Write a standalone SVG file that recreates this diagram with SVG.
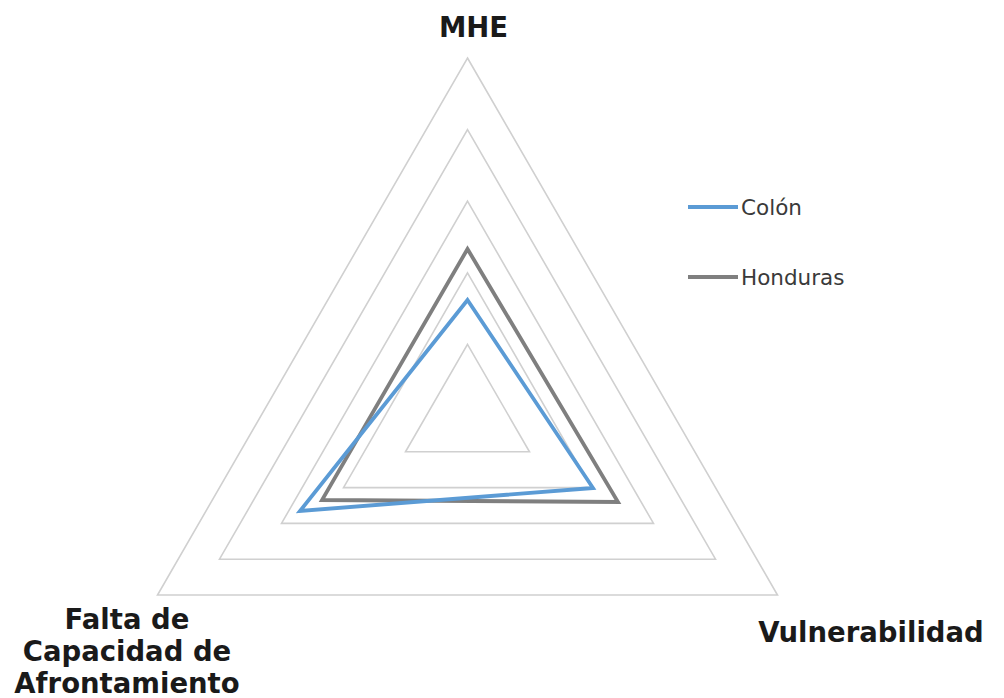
<svg xmlns="http://www.w3.org/2000/svg" width="1004" height="698" viewBox="0 0 1004 698">
<style>
.grid{fill:none;stroke:#D0D0D0;stroke-width:1.6;stroke-linejoin:miter}
.s{fill:none;stroke-width:3.8;stroke-linejoin:miter}
.colon{stroke:#5B9BD5}
.hond{stroke:#7F7F7F}
.ax{font-family:"DejaVu Sans",Verdana,sans-serif;font-weight:bold;font-size:27.5px;fill:#1a1a1a;text-anchor:middle}
.lg{font-family:"DejaVu Sans",Verdana,sans-serif;font-size:21.5px;fill:#3a3a3a}
</style>
<rect width="1004" height="698" fill="#fff"/>
<g id="grid">
<polygon class="grid" points="467.5,58 777.5,595 157.5,595"/>
<polygon class="grid" points="467.5,129.6 715.5,559.2 219.5,559.2"/>
<polygon class="grid" points="467.5,201.2 653.5,523.4 281.5,523.4"/>
<polygon class="grid" points="467.5,272.8 591.5,487.6 343.5,487.6"/>
<polygon class="grid" points="467.5,344.4 529.5,451.8 405.5,451.8"/>
</g>
<g id="series">
<polygon id="honduras" class="s hond" points="467.5,249 618,502 322,500"/>
<polygon id="colon" class="s colon" points="467.5,300 593,488 300,511"/>
</g>
<g id="axis-mhe"><text class="ax" x="473.5" y="37">MHE</text></g>
<g id="axis-vuln"><text class="ax" x="871" y="642">Vulnerabilidad</text></g>
<g id="axis-falta">
<text class="ax" x="127" y="629">Falta de</text>
<text class="ax" x="127" y="661">Capacidad de</text>
<text class="ax" x="127" y="693">Afrontamiento</text>
</g>
<g id="legend">
<line class="s colon" x1="688" y1="207" x2="738" y2="207"/>
<text class="lg" x="741" y="215">Colón</text>
<line class="s hond" x1="688" y1="277" x2="738" y2="277"/>
<text class="lg" x="741" y="285">Honduras</text>
</g>
</svg>
